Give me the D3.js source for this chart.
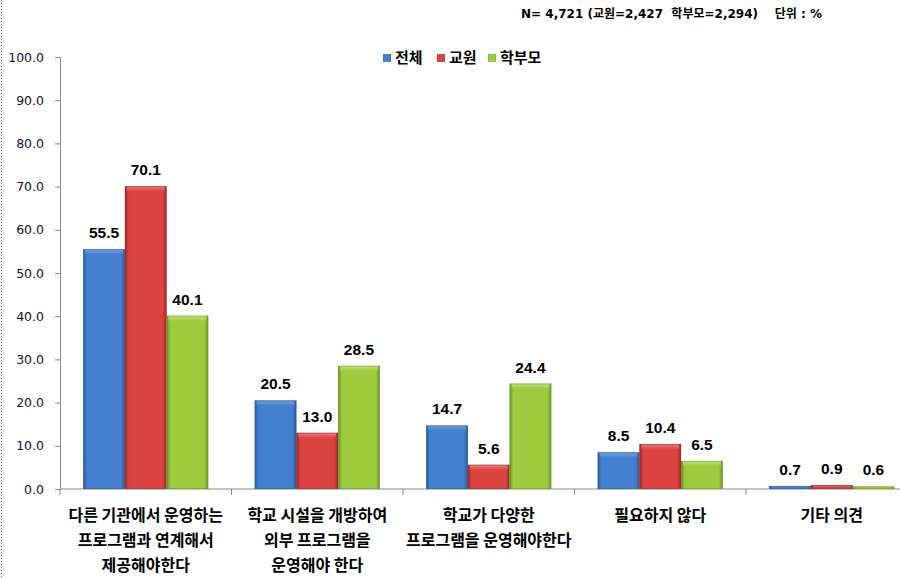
<!DOCTYPE html>
<html><head><meta charset="utf-8">
<script src="https://cdn.jsdelivr.net/npm/d3@7/dist/d3.min.js"></script>
<style>body{margin:0;background:#fff}svg{display:block}</style>
</head><body>
<script>
const categories = [
  ["다른 기관에서 운영하는","프로그램과 연계해서","제공해야한다"],
  ["학교 시설을 개방하여","외부 프로그램을","운영해야 한다"],
  ["학교가 다양한","프로그램을 운영해야한다"],
  ["필요하지 않다"],
  ["기타 의견"]
];
const seriesNames = ["전체","교원","학부모"];
const totalVals = [55.5, 20.5, 14.7, 8.5, 0.7];
const teacherVals = [70.1, 13.0, 5.6, 10.4, 0.9];
const parentVals = [40.1, 28.5, 24.4, 6.5, 0.6];
const yTicks = [0,10,20,30,40,50,60,70,80,90,100];
const headerText = "N= 4,721 (교원=2,427  학부모=2,294)    단위 : %";

(function(){
const colors = [
  {face:"#4480cf", dark:"#2c5a9a", light:"#7aa6e0"},
  {face:"#dc4442", dark:"#9c2a28", light:"#ee8482"},
  {face:"#9ccc3e", dark:"#6e9428", light:"#c4e47e"}
];
const seriesVals = [totalVals, teacherVals, parentVals];

const W=900,H=578;
const svg=d3.select("body").append("svg").attr("width",W).attr("height",H);
const defs=svg.append("defs");
colors.forEach((c,i)=>{
  const g=defs.append("linearGradient").attr("id","g"+i).attr("x1",0).attr("x2",1).attr("y1",0).attr("y2",0);
  g.append("stop").attr("offset",0).attr("stop-color",c.dark);
  g.append("stop").attr("offset",0.1).attr("stop-color",c.face);
  g.append("stop").attr("offset",0.9).attr("stop-color",c.face);
  g.append("stop").attr("offset",1).attr("stop-color",c.dark);
  const t=defs.append("linearGradient").attr("id","t"+i).attr("x1",0).attr("x2",0).attr("y1",0).attr("y2",1);
  t.append("stop").attr("offset",0).attr("stop-color",c.light);
  t.append("stop").attr("offset",1).attr("stop-color",c.face);
});

svg.append("line").attr("x1",1.5).attr("x2",1.5).attr("y1",0).attr("y2",H)
  .attr("stroke","#666").attr("stroke-dasharray","1,2");

const pLeft=60, pRight=60+5*171.5, pTop=57, pBottom=489;
const y=d3.scaleLinear().domain([0,100]).range([pBottom,pTop]);
const x0=d3.scaleBand().domain(d3.range(categories.length)).range([pLeft,pRight]).padding(0);
const x1=d3.scaleBand().domain(d3.range(3)).range([0,x0.bandwidth()]).paddingInner(0).paddingOuter(0.557);

const yAxis=svg.append("g").attr("transform",`translate(${pLeft},0)`)
  .call(d3.axisLeft(y).tickValues(yTicks).tickFormat(d3.format(".1f")).tickSizeOuter(0).tickSize(5).tickPadding(11));
yAxis.select(".domain").attr("stroke","#888");
yAxis.selectAll(".tick line").attr("stroke","#888");
yAxis.selectAll("text").attr("font-family","DejaVu Sans").attr("font-size",12.5).attr("fill","#111133");

const xg=svg.append("g").attr("transform",`translate(0,${pBottom})`);
xg.append("line").attr("x1",pLeft).attr("x2",pRight).attr("stroke","#888");
xg.selectAll("line.tk").data(d3.range(categories.length+1)).join("line").attr("class","tk")
  .attr("x1",i=>pLeft+i*x0.step()).attr("x2",i=>pLeft+i*x0.step()).attr("y1",0).attr("y2",6).attr("stroke","#888");

seriesVals.forEach((vals,si)=>{
  const g=svg.append("g");
  vals.forEach((v,ci)=>{
    const bx=x0(ci)+x1(si), bw=x1.bandwidth(), by=y(v), bh=pBottom-by;
    g.append("rect").attr("x",bx).attr("y",by).attr("width",bw).attr("height",bh).attr("fill",`url(#g${si})`);
    const th=Math.min(5,bh/2);
    g.append("rect").attr("x",bx+2).attr("y",by).attr("width",bw-4).attr("height",th).attr("fill",`url(#t${si})`);
    g.append("rect").attr("x",bx+0.5).attr("y",by+0.5).attr("width",bw-1).attr("height",Math.max(0,bh-1))
      .attr("fill","none").attr("stroke",colors[si].dark).attr("stroke-opacity",0.5);
    svg.append("text").attr("x",bx+bw/2).attr("y",by-11).attr("text-anchor","middle")
      .attr("font-family","Liberation Sans, Arial").attr("font-weight","bold").attr("font-size",15.5)
      .attr("fill","#000").text(v.toFixed(1));
  });
});

categories.forEach((lines,ci)=>{
  lines.forEach((l,li)=>{
    svg.append("text").attr("x",x0(ci)+x0.bandwidth()/2).attr("y",521+li*25)
      .attr("text-anchor","middle").attr("font-family","Noto Sans CJK KR").attr("font-weight","bold")
      .attr("font-size",16).attr("fill","#000").text(l);
  });
});

const legX=[383,437,488];
seriesNames.forEach((n,i)=>{
  svg.append("rect").attr("x",legX[i]).attr("y",54).attr("width",8).attr("height",8).attr("fill",`url(#g${i})`);
  svg.append("text").attr("x",legX[i]+12).attr("y",63).attr("font-family","Noto Sans CJK KR")
    .attr("font-weight","bold").attr("font-size",15).attr("fill","#000").text(n);
});

svg.append("text").attr("x",521).attr("y",18).attr("font-family","DejaVu Sans, Noto Sans CJK KR")
  .attr("font-weight","bold").attr("font-size",12).attr("fill","#000")
  .attr("textLength",301).attr("lengthAdjust","spacing")
  .text(headerText.replace(/ /g,"\u00a0"));
})();
</script>
</body></html>
